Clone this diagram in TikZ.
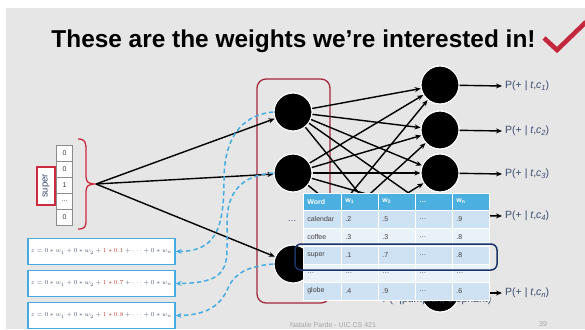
\documentclass[tikz,border=0pt]{standalone}
\usepackage{fontspec}
\setmainfont{Liberation Sans}
\usetikzlibrary{arrows.meta}

\definecolor{slidebg}{HTML}{E6E6E6}
\definecolor{checkred}{HTML}{C4283C}
\definecolor{bracered}{HTML}{CC2A40}
\definecolor{layerred}{HTML}{A3263A}
\definecolor{lbltext}{HTML}{3B4A70}
\definecolor{eqblue}{HTML}{45ACDF}
\definecolor{eqtext}{HTML}{4A5570}
\definecolor{eqred}{HTML}{B5412F}
\definecolor{tabhead}{HTML}{4BAFE0}
\definecolor{rowdark}{HTML}{CFE2F3}
\definecolor{rowlight}{HTML}{E9F1F9}
\definecolor{celltext}{HTML}{404040}
\definecolor{navyline}{HTML}{1B3468}
\definecolor{footgray}{HTML}{A6A6A6}

\tikzset{
  neuron/.style={circle, fill=black, draw=white, line width=1.2pt,
    minimum size=38pt, inner sep=0pt},
  conn/.style={draw=black, line width=1.4pt,
    -{Stealth[length=6pt,width=5pt]}},
  weightlink/.style={draw=eqblue, line width=1.5pt, dash pattern=on 4.5pt off 3pt,
    -{Stealth[length=6pt,width=5pt]}},
  vcell/.style={draw=gray!90, fill=white, line width=0.7pt,
    minimum width=15.5pt, minimum height=16pt, inner sep=0pt,
    font=\fontsize{7}{8}\selectfont, text=celltext},
  plbl/.style={anchor=west, inner xsep=3pt, text=lbltext,
    font=\fontsize{10.5}{12}\selectfont},
  eqbox/.style={draw=eqblue, fill=white, line width=1.2pt,
    minimum width=147pt, minimum height=26pt, inner sep=0pt, text=eqtext},
  tcell/.style={anchor=west, draw=white, line width=0.6pt, minimum height=18pt,
    inner xsep=4pt, align=left, text=celltext,
    font=\fontsize{7}{8}\selectfont},
}

\newcommand{\plabel}[1]{P(+ | \textit{t},\textit{c}\raisebox{-2pt}{\fontsize{7.5}{8}\selectfont\itshape #1})}
\newcommand{\eqline}[1]{\fontsize{6.4}{7}\selectfont
  $z = 0 \ast w_1 + 0 \ast w_2 + {\color{eqred}1 \ast #1} + \cdots + 0 \ast w_n$}

\begin{document}
\begin{tikzpicture}[x=1pt,y=-1pt]
\useasboundingbox (0,0) rectangle (585,329);
\fill[white] (0,0) rectangle (585,329);
\fill[slidebg] (6,8) rectangle (585,329);

% title and tick mark
\node[anchor=base, font=\fontsize{24.4}{28}\selectfont\bfseries] (title) at (293.5,47.3)
  {These are the weights we’re interested in!};
\draw[checkred, line width=4.6pt, line join=miter]
  (544,38) -- (557,50) -- (586,22);

% one-hot input vector
\foreach \v [count=\i] in {0,0,1,\ldots,0}
  \node[vcell] (in\i) at (64.5,{145+16*(\i-1)+8}) {\v};
\node[draw=bracered, fill=white, line width=1.3pt, minimum width=18pt,
  minimum height=38pt, inner sep=0pt] (word) at (46,186) {};
\node[rotate=90, text=lbltext, font=\fontsize{9.5}{10}\selectfont] at (word) {super};

% brace gathering the vector
\coordinate (brtip) at (96,184);
\draw[bracered, line width=1.3pt]
  (78,139) .. controls (85,139) and (86,142) .. (86,150) -- (86,176)
  .. controls (86,182) and (88,184) .. (brtip)
  .. controls (88,184) and (86,186) .. (86,192) -- (86,220)
  .. controls (86,227) and (85,229) .. (78,229);

% hidden layer
\draw[layerred, line width=1.3pt, rounded corners=9pt] (257,79) rectangle (330,303);
\node[neuron] (h1) at (293,112) {};
\node[neuron] (h2) at (293,173) {};
\node[neuron] (h3) at (293,264) {};
\node[text=lbltext, font=\fontsize{9}{10}\selectfont] (hdots) at (292,221) {\ldots};

% output layer
\node[neuron] (o1) at (440,85) {};
\node[neuron] (o2) at (440,130) {};
\node[neuron] (o3) at (440,173) {};
\node[neuron] (o4) at (440,215) {};
\node[neuron] (o5) at (440,293) {};

% input to hidden
\foreach \h in {h1,h2,h3}
  \draw[conn] (brtip) -- (\h);

% hidden to output
\foreach \h in {h1,h2,h3}
  \foreach \o in {o1,o2,o3,o4,o5}
    \draw[conn] (\h) -- (\o);

% output probabilities
\node[plbl] (p1) at (502,86) {\plabel{1}};
\node[plbl] (p2) at (502,131) {\plabel{2}};
\node[plbl] (p3) at (502,174) {\plabel{3}};
\node[plbl] (p4) at (502,216) {\plabel{4}};
\node[plbl] (p5) at (502,293) {\plabel{n}};
\foreach \i in {1,...,5}
  \draw[conn] (o\i) -- (p\i.west);
\node[text=lbltext, font=\fontsize{10.5}{12}\selectfont] (pext) at (437,300)
  {P(+|pumpkin, elephant)};

% weighted sums for each hidden unit
\node[eqbox] (eq1) at (101.5,251.5) {\eqline{0.1}};
\node[eqbox] (eq2) at (101.5,283.5) {\eqline{0.7}};
\node[eqbox] (eq3) at (101.5,315.5) {\eqline{0.8}};

\draw[weightlink] (h1.west) .. controls (240,115) and (224,140) .. (224,180)
  .. controls (224,232) and (214,251) .. (eq1.east);
\draw[weightlink] (h2.west) .. controls (242,175) and (227,192) .. (227,222)
  -- (227,250) .. controls (227,276) and (214,283) .. (eq2.east);
\draw[weightlink] (h3.west) .. controls (250,266) and (236,272) .. (229,286)
  .. controls (222,302) and (212,315) .. (eq3.east);

% embedding table
\foreach \r/\a/\b/\c/\d/\fc [count=\k] in {
    calendar/.2/.5/\ldots/.9/rowdark,
    coffee/.3/.3/\ldots/.8/rowlight,
    super/.1/.7/\ldots/.8/rowdark,
    \ldots/\ldots/\ldots/\ldots/\ldots/rowlight,
    globe/.4/.9/\ldots/.6/rowdark} {
  \pgfmathsetmacro{\yc}{210+18*(\k-1)+9}
  \node[tcell, fill=\fc, text width=30pt] (t\k-1) at (303,\yc) {\r};
  \node[tcell, fill=\fc, text width=29pt] (t\k-2) at (341,\yc) {\a};
  \node[tcell, fill=\fc, text width=29pt] (t\k-3) at (378,\yc) {\b};
  \node[tcell, fill=\fc, text width=29pt] (t\k-4) at (415,\yc) {\c};
  \node[tcell, fill=\fc, text width=29pt] (t\k-5) at (452,\yc) {\d};
}
\foreach \hd/\xl/\tw [count=\j] in {Word/303/30pt, w\textsubscript{1}/341/29pt,
    w\textsubscript{2}/378/29pt, \ldots/415/29pt, w\textsubscript{n}/452/29pt}
  \node[tcell, fill=tabhead, text=white, minimum height=17pt, text width=\tw,
    font=\fontsize{7}{8}\selectfont\bfseries] (th-\j) at (\xl,201.5) {\hd};

% highlighted row
\draw[navyline, line width=1.5pt, rounded corners=6pt] (295,244) rectangle (497,270);

% footer
\node[text=footgray, font=\fontsize{7}{8}\selectfont] (foot) at (333,324.5)
  {Natalie Parde - UIC CS 421};
\node[text=footgray, font=\fontsize{7}{8}\selectfont] (page) at (543,324.5) {39};
\end{tikzpicture}
\end{document}
